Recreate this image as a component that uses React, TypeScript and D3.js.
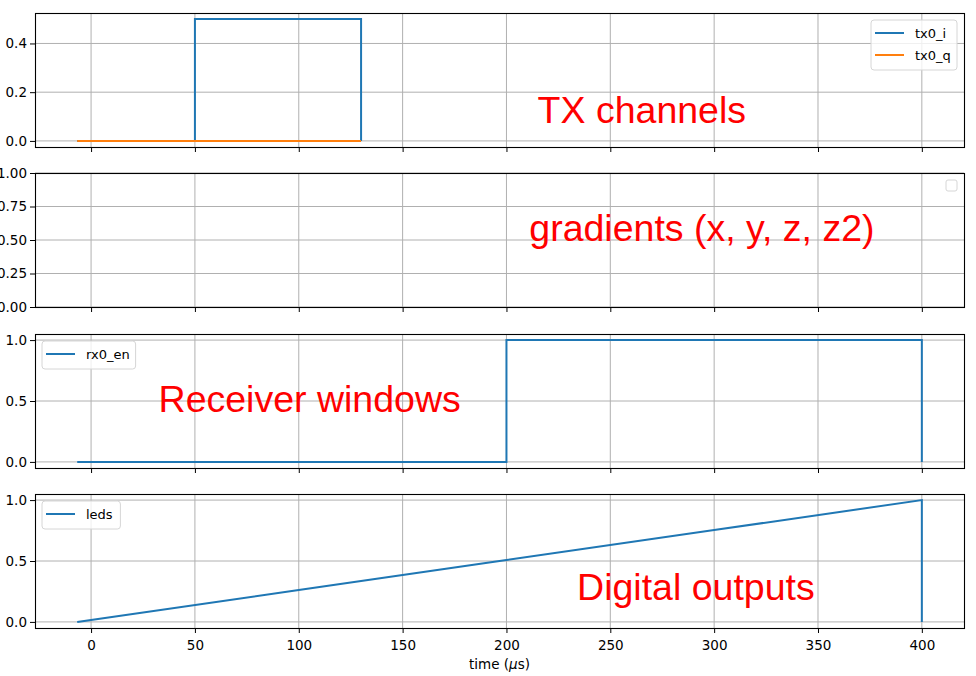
import { useRef, useEffect } from 'react';
import * as d3 from 'd3';

// series data (time in µs)
const tx0iTime = [-6.67, 50, 130];
const tx0iValue = [0, 0.5, 0];
const tx0qTime = [-6.67, 130];
const tx0qValue = [0, 0];
const rx0Time = [-6.67, 200, 400];
const rx0Value = [0, 1, 0];
const ledsTime = [-6.67, 0, 100, 200, 300, 400, 400];
const ledsValue = [0, 0.016, 0.262, 0.508, 0.754, 1, 0];

const xTicks = [0, 50, 100, 150, 200, 250, 300, 350, 400];
const yTicks1 = [0, 0.2, 0.4];
const yTicks2 = [0, 0.25, 0.5, 0.75, 1];
const yTicks34 = [0, 0.5, 1];

const BLUE = '#1f77b4';
const ORANGE = '#ff7f0e';

interface Series {
    name: string;
    time: number[];
    value: number[];
    color: string;
    step: boolean;
}

interface Panel {
    top: number;
    domain: [number, number];
    ticks: number[];
    fmt: string;
    series: Series[];
    legend: 'right' | 'left' | 'empty';
    label: string;
    labelPos: [number, number];
}

const panels: Panel[] = [
    {
        top: 13, domain: [-0.025, 0.525], ticks: yTicks1, fmt: '.1f',
        series: [
            { name: 'tx0_i', time: tx0iTime, value: tx0iValue, color: BLUE, step: true },
            { name: 'tx0_q', time: tx0qTime, value: tx0qValue, color: ORANGE, step: true },
        ],
        legend: 'right', label: 'TX channels', labelPos: [215, 0.075],
    },
    {
        top: 173, domain: [0, 1], ticks: yTicks2, fmt: '.2f',
        series: [],
        legend: 'empty', label: 'gradients (x, y, z, z2)', labelPos: [211, 0.49],
    },
    {
        top: 334, domain: [-0.05, 1.05], ticks: yTicks34, fmt: '.1f',
        series: [{ name: 'rx0_en', time: rx0Time, value: rx0Value, color: BLUE, step: true }],
        legend: 'left', label: 'Receiver windows', labelPos: [32.5, 0.41],
    },
    {
        top: 494, domain: [-0.05, 1.05], ticks: yTicks34, fmt: '.1f',
        series: [{ name: 'leds', time: ledsTime, value: ledsValue, color: BLUE, step: false }],
        legend: 'left', label: 'Digital outputs', labelPos: [234, 0.18],
    },
];

export default function App() {
    const svgRef = useRef<SVGSVGElement>(null);

    useEffect(() => {
        if (!svgRef.current) return;
        const width = 976;
        const height = 676;
        const left = 35;
        const right = 964;
        const panelH = 134;
        const tickFont = 'DejaVu Sans, sans-serif';

        const svg = d3.select(svgRef.current);
        svg.selectAll('*').remove();
        svg.attr('width', width).attr('height', height);

        svg.append('rect').attr('width', width).attr('height', height).attr('fill', '#fff');

        const x = d3.scaleLinear().domain([-27, 420.3]).range([left, right]);

        panels.forEach((p, pi) => {
            const y = d3.scaleLinear().domain(p.domain).range([p.top + panelH, p.top]);
            const g = svg.append('g');

            // grid
            xTicks.forEach(t => {
                g.append('line')
                    .attr('x1', x(t)).attr('x2', x(t))
                    .attr('y1', p.top).attr('y2', p.top + panelH)
                    .attr('stroke', '#b0b0b0').attr('stroke-width', 1);
            });
            p.ticks.forEach(t => {
                g.append('line')
                    .attr('x1', left).attr('x2', right)
                    .attr('y1', y(t)).attr('y2', y(t))
                    .attr('stroke', '#b0b0b0').attr('stroke-width', 1);
            });

            // series
            p.series.forEach(s => {
                const pts = s.time.map((t, i) => [t, s.value[i]] as [number, number]);
                const line = d3.line<[number, number]>()
                    .x(d => x(d[0]))
                    .y(d => y(d[1]))
                    .curve(s.step ? d3.curveStepAfter : d3.curveLinear);
                g.append('path')
                    .datum(pts)
                    .attr('fill', 'none')
                    .attr('stroke', s.color)
                    .attr('stroke-width', 2)
                    .attr('d', line);
            });

            // frame
            g.append('rect')
                .attr('x', left + 0.5).attr('y', p.top + 0.5)
                .attr('width', right - left).attr('height', panelH)
                .attr('fill', 'none').attr('stroke', '#000').attr('stroke-width', 1.1);

            // x ticks
            const xAxis = g.append('g')
                .attr('transform', `translate(0,${p.top + panelH})`)
                .call(d3.axisBottom(x).tickValues(xTicks).tickSize(5).tickSizeOuter(0)
                    .tickFormat(pi === 3 ? d3.format('d') : () => ''));
            xAxis.select('.domain').remove();
            xAxis.selectAll('.tick line').attr('stroke', '#000');
            xAxis.selectAll('text')
                .attr('fill', '#000')
                .attr('font-family', tickFont)
                .style('font-size', '13.5px')
                .attr('dy', '1.05em');

            // y ticks
            const yAxis = g.append('g')
                .attr('transform', `translate(${left},0)`)
                .call(d3.axisLeft(y).tickValues(p.ticks).tickSize(5).tickSizeOuter(0)
                    .tickFormat(d3.format(p.fmt)));
            yAxis.select('.domain').remove();
            yAxis.selectAll('.tick line').attr('stroke', '#000');
            yAxis.selectAll('text')
                .attr('fill', '#000')
                .attr('font-family', tickFont)
                .style('font-size', '13.5px');

            // annotation
            g.append('text')
                .attr('x', x(p.labelPos[0]))
                .attr('y', y(p.labelPos[1]))
                .attr('fill', '#ff0000')
                .attr('font-family', 'Liberation Sans, Arial, sans-serif')
                .style('font-size', '37.5px')
                .text(p.label);

            // legend
            if (p.legend === 'empty') {
                g.append('rect')
                    .attr('x', right - 18).attr('y', p.top + 7)
                    .attr('width', 11).attr('height', 11)
                    .attr('rx', 2)
                    .attr('fill', '#fff').attr('fill-opacity', 0.8)
                    .attr('stroke', '#d6d6d6');
            } else {
                const rowH = 22;
                const textW = p.series.reduce((m, s) => Math.max(m, s.name.length * 7.6), 0);
                const boxW = 40 + textW + 8;
                const boxH = p.series.length * rowH + 6;
                const bx = p.legend === 'right' ? right - 7 - boxW : left + 7;
                const by = p.top + 7;
                const leg = g.append('g').attr('transform', `translate(${bx},${by})`);
                leg.append('rect')
                    .attr('width', boxW).attr('height', boxH).attr('rx', 3)
                    .attr('fill', '#fff').attr('fill-opacity', 0.8)
                    .attr('stroke', '#d6d6d6');
                p.series.forEach((s, i) => {
                    const cy = 13 + i * rowH;
                    leg.append('line')
                        .attr('x1', 4).attr('x2', 33)
                        .attr('y1', cy).attr('y2', cy)
                        .attr('stroke', s.color).attr('stroke-width', 2);
                    leg.append('text')
                        .attr('x', 44).attr('y', cy + 4.5)
                        .attr('fill', '#000')
                        .attr('font-family', tickFont)
                        .style('font-size', '13px')
                        .text(s.name);
                });
            }
        });

        // x label
        const xl = svg.append('text')
            .attr('x', (left + right) / 2)
            .attr('y', 669)
            .attr('text-anchor', 'middle')
            .attr('fill', '#000')
            .attr('font-family', tickFont)
            .style('font-size', '13.5px');
        xl.append('tspan').text('time (');
        xl.append('tspan').attr('font-style', 'italic').text('μ');
        xl.append('tspan').text('s)');
    }, []);

    return (
        <div style={{ position: 'absolute', left: 0, top: 0 }}>
            <svg ref={svgRef}></svg>
        </div>
    );
}
